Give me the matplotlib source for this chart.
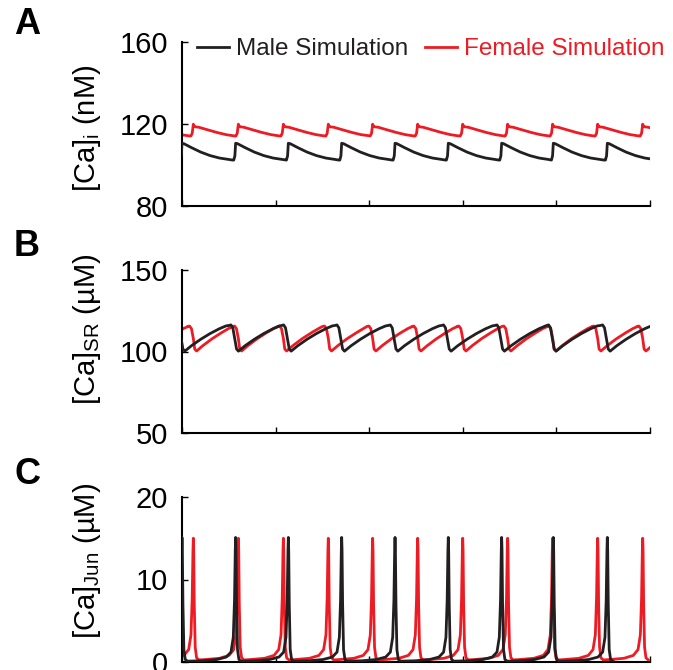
import numpy as np
import matplotlib
matplotlib.use('Agg')
import matplotlib.pyplot as plt

# beat times (s)
male_beats = [0.0, 0.573, 1.136, 1.706, 2.276, 2.845, 3.415, 3.967, 4.544]
female_beats = [-0.36, 0.121, 0.602, 1.083, 1.563, 2.037, 2.518, 2.999, 3.479, 3.960, 4.441, 4.922]

# one cycle of each trace, (time from beat, value)
male_cai_dt = [-0.02, -0.008, 0.0, 0.02, 0.1, 0.2, 0.3, 0.4, 0.5, 0.54]
male_cai = [102.4, 104.5, 110.6, 110.4, 108.5, 106.3, 104.6, 103.4, 102.7, 102.4]
female_cai_dt = [-0.025, -0.012, 0.0, 0.01, 0.025, 0.06, 0.15, 0.25, 0.35, 0.45]
female_cai = [114.2, 115.5, 119.9, 118.8, 118.6, 118.4, 117.2, 115.9, 114.8, 114.1]

male_sr_dt = [-0.07, -0.05, -0.03, -0.01, 0.01, 0.03, 0.1, 0.2, 0.3, 0.4, 0.47]
male_sr = [116.0, 116.3, 114.5, 108.0, 101.5, 100.2, 103.5, 107.5, 111.0, 114.0, 115.7]
female_sr_dt = [-0.06, -0.04, -0.02, 0.0, 0.015, 0.035, 0.1, 0.2, 0.3, 0.38, 0.42]
female_sr = [115.4, 115.6, 114.0, 108.0, 101.5, 100.3, 103.5, 107.8, 111.5, 114.2, 115.2]

jun_dt = [-0.35, -0.2, -0.1, -0.05, -0.025, -0.012, -0.004, 0.0, 0.004, 0.01, 0.02, 0.035, 0.06]
male_jun = [0.15, 0.3, 0.6, 1.2, 3.0, 7.5, 13.5, 15.1, 13.5, 7.0, 1.5, 0.3, 0.1]
female_jun = [0.3, 0.45, 0.8, 1.5, 3.3, 7.8, 13.5, 15.0, 13.5, 7.0, 1.8, 0.5, 0.25]

panel_letters = ['A', 'B', 'C']
ylabels = [r'[Ca]$_{\rm i}$ (nM)', r'[Ca]$_{\rm SR}$ (µM)', r'[Ca]$_{\rm Jun}$ (µM)']
yticks = [[80, 120, 160], [50, 100, 150], [0, 10, 20]]
xticks = [0, 1, 2, 3, 4, 5]

BLACK = '#231F20'
RED = '#ED1C24'


def build(beats, dt, vals):
    # chain the cycle at every beat, cut where the next one starts
    t, y = [], []
    for i, b in enumerate(beats):
        stop = beats[i + 1] + dt[0] if i + 1 < len(beats) else np.inf
        for d, v in zip(dt, vals):
            if b + d < stop:
                t.append(b + d)
                y.append(v)
    return np.array(t), np.array(y)


plt.rcParams['font.family'] = ['Liberation Sans', 'DejaVu Sans']
plt.rcParams['mathtext.fontset'] = 'custom'
plt.rcParams['mathtext.rm'] = 'Liberation Sans'
plt.rcParams['mathtext.it'] = 'Liberation Sans:italic'

W, H = 673, 670
fig = plt.figure(figsize=(W / 100, H / 100), dpi=100)

# axes boxes in pixels: top, bottom
boxes = [(42, 206), (270, 433), (497, 662)]
series = [
    (male_cai_dt, male_cai, female_cai_dt, female_cai),
    (male_sr_dt, male_sr, female_sr_dt, female_sr),
    (jun_dt, male_jun, jun_dt, female_jun),
]
label_y = [0.476, 0.64, 0.61]
letter_y = [24, 247, 474]

axes = []
for k, (top, bot) in enumerate(boxes):
    ax = fig.add_axes([182 / W, 1 - bot / H, 468 / W, (bot - top) / H])
    mdt, mv, fdt, fv = series[k]
    tm, ym = build(male_beats, mdt, mv)
    tf, yf = build(female_beats, fdt, fv)
    lm, = ax.plot(tm, ym, color=BLACK, lw=2, zorder=3, label='Male Simulation')
    lf, = ax.plot(tf, yf, color=RED, lw=2, zorder=2, label='Female Simulation')
    ax.set_xlim(0, 5)
    ax.set_ylim(yticks[k][0], yticks[k][-1])
    ax.set_yticks(yticks[k])
    ax.set_xticks(xticks)
    ax.set_xticklabels([])
    for s in ['top', 'right']:
        ax.spines[s].set_visible(False)
    for s in ['left', 'bottom']:
        ax.spines[s].set_linewidth(1.5)
        ax.spines[s].set_color('black')
    ax.tick_params(direction='in', length=4, width=1, labelsize=21, pad=10)
    ax.set_ylabel(ylabels[k], fontsize=21)
    ax.yaxis.set_label_coords(-0.168, label_y[k])
    fig.text(14 / W, 1 - letter_y[k] / H, panel_letters[k], fontsize=26,
             fontweight='bold', va='center', ha='left')
    axes.append(ax)

fig.legend(handles=[lm, lf], loc='center left', bbox_to_anchor=(197 / W, 1 - 49 / H),
           ncol=2, frameon=False, fontsize=17.5, handlelength=1.3, handletextpad=0.3,
           columnspacing=0.7, borderpad=0, borderaxespad=0, labelcolor='linecolor')

fig.savefig('out.png', dpi=100)
